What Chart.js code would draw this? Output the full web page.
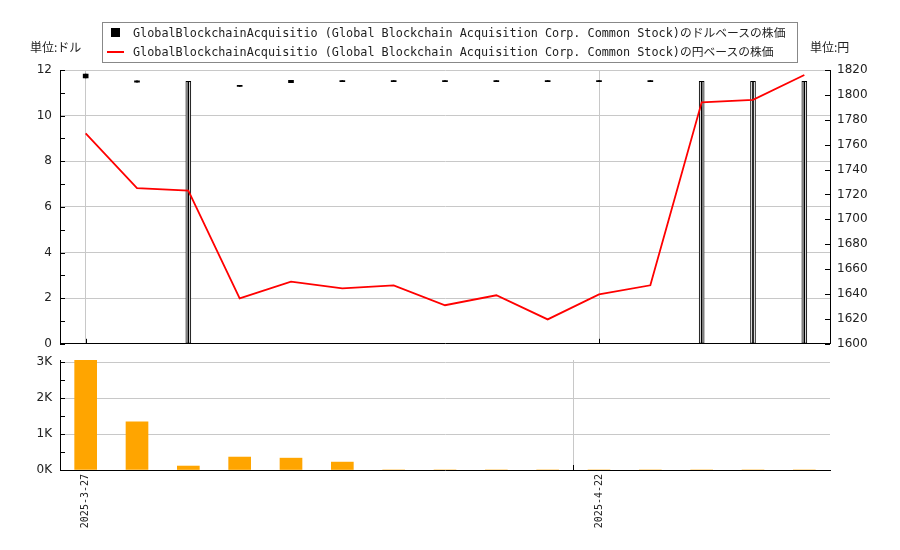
<!DOCTYPE html>
<html>
<head>
<meta charset="utf-8">
<script src="https://cdn.jsdelivr.net/npm/chart.js@4.4.1/dist/chart.umd.min.js"></script>
<style>
  body { margin: 0; background: #fff; }
  #wrap { position: relative; width: 900px; height: 550px; overflow: hidden; }
  canvas { position: absolute; left: 0; }
  #priceChart { top: 0; }
  #volChart { top: 350px; }
  .unit { position: absolute; top: 38px; line-height: 16px; font: 12px "Noto Sans CJK JP", sans-serif; color: #222; }
  #legend { position: absolute; left: 102px; top: 22px; width: 694px; height: 39px; border: 1px solid #888; background: #fff;
            font: 11.8px "DejaVu Sans Mono", "Noto Sans CJK JP", monospace; color: #222; }
  .row { position: absolute; left: 0; width: 100%; height: 19px; line-height: 19px; white-space: nowrap; }
  .row span { position: absolute; }
</style>
</head>
<body>
<div id="wrap">
  <canvas id="priceChart" width="900" height="359"></canvas>
  <canvas id="volChart" width="900" height="200"></canvas>
  <div class="unit" style="left:30px">単位:ドル</div>
  <div class="unit" style="left:810px">単位:円</div>
  <div id="legend"></div>
</div>
<script>
const dates = ['2025-3-27', '2025-3-28', '2025-3-31', '2025-4-1', '2025-4-2', '2025-4-3', '2025-4-4', '2025-4-7',
  '2025-4-8', '2025-4-9', '2025-4-22', '2025-4-23', '2025-4-24', '2025-4-25', '2025-4-28'];
const xLabelIdx = [0, 10];

// dollar based candles
const usdOpen  = [11.82, 11.53, 0,    11.32, 11.55, 11.51, 11.51, 11.51, 11.51, 11.51, 11.51, 11.51, 0,    0,    0];
const usdClose = [11.65, 11.47, 11.5, 11.28, 11.45, 11.49, 11.49, 11.49, 11.49, 11.49, 11.49, 11.49, 11.5, 11.5, 11.5];
const usdHigh  = [11.82, 11.53, 11.5, 11.32, 11.55, 11.51, 11.51, 11.51, 11.51, 11.51, 11.51, 11.51, 11.5, 11.5, 11.5];
const usdLow   = [11.65, 11.47, 0,    11.28, 11.45, 11.49, 11.49, 11.49, 11.49, 11.49, 11.49, 11.49, 0,    0,    0];

// yen based close
const jpyClose = [1769, 1725, 1723, 1636.5, 1650, 1644.6, 1647, 1631, 1639, 1619.6, 1639.7, 1647, 1794, 1796, 1816];

const volume = [3060, 1340, 110, 360, 330, 220, 0, 0, 0, 0, 0, 0, 0, 0, 0];

// tick values (labels only on the major ones)
const usdTicks = [0, 1, 2, 3, 4, 5, 6, 7, 8, 9, 10, 11, 12];
const jpyTicks = [1600, 1610, 1620, 1630, 1640, 1650, 1660, 1670, 1680, 1690, 1700, 1710,
  1720, 1730, 1740, 1750, 1760, 1770, 1780, 1790, 1800, 1810, 1820];
const volTicks = [0, 500, 1000, 1500, 2000, 2500, 3000];

const usdLabel = 'GlobalBlockchainAcquisitio (Global Blockchain Acquisition Corp. Common Stock)のドルベースの株価';
const jpyLabel = 'GlobalBlockchainAcquisitio (Global Blockchain Acquisition Corp. Common Stock)の円ベースの株価';

const gridGray = '#c8c8c8';
const tickFont = { family: 'DejaVu Sans', size: 12 };

// short tick marks drawn inside the plot, like the original
const inTicks = {
  id: 'inTicks',
  afterDraw(chart, args, opts) {
    const ctx = chart.ctx;
    ctx.save();
    ctx.strokeStyle = '#000';
    ctx.lineWidth = 1;
    Object.values(chart.scales).forEach(s => {
      if (s.axis === 'y') {
        s.ticks.forEach(t => {
          const y = Math.round(s.getPixelForValue(t.value)) + 0.5;
          ctx.beginPath();
          if (s.position === 'left') { ctx.moveTo(s.right, y); ctx.lineTo(s.right + 5, y); }
          else { ctx.moveTo(s.left - 5, y); ctx.lineTo(s.left, y); }
          ctx.stroke();
        });
      } else {
        const half = (s.getPixelForValue(1) - s.getPixelForValue(0)) * (opts.xShift || 0);
        opts.xMarks.forEach(i => {
          const x = Math.round(s.getPixelForValue(i) - half) + 0.5;
          ctx.beginPath(); ctx.moveTo(x, s.top - 5); ctx.lineTo(x, s.top); ctx.stroke();
        });
      }
    });
    ctx.restore();
  }
};

const setTicks = vals => s => { s.ticks = vals.map(v => ({ value: v })); };
const isUp = i => usdClose[i] >= usdOpen[i];

const priceChart = new Chart(document.getElementById('priceChart'), {
  type: 'bar',
  data: {
    labels: dates,
    datasets: [
      {
        type: 'line',
        label: jpyLabel,
        legendMark: 'line',
        data: jpyClose,
        yAxisID: 'yJpy',
        borderColor: '#ff0000',
        borderWidth: 1.8,
        pointRadius: 0,
        tension: 0,
        order: -1
      },
      {
        label: usdLabel,
        legendMark: 'square',
        data: dates.map((d, i) => [Math.min(usdOpen[i], usdClose[i]), Math.max(usdOpen[i], usdClose[i])]),
        yAxisID: 'yUsd',
        grouped: false,
        barThickness: 5,
        minBarLength: 1,
        backgroundColor: dates.map((d, i) => isUp(i) ? '#fff' : '#000'),
        borderColor: '#000',
        borderWidth: dates.map((d, i) => isUp(i) ? 1 : 0),
        borderSkipped: false,
        order: 2
      },
      {
        label: 'wick',
        data: dates.map((d, i) => [usdLow[i], usdHigh[i]]),
        yAxisID: 'yUsd',
        grouped: false,
        barThickness: 1,
        minBarLength: 1,
        backgroundColor: '#000',
        order: 1
      }
    ]
  },
  options: {
    responsive: false,
    animation: false,
    events: [],
    layout: { padding: { top: 70, bottom: 7, left: 0, right: 0 } },
    plugins: {
      legend: { display: false },
      tooltip: { enabled: false },
      inTicks: { xMarks: xLabelIdx, xShift: 0 }
    },
    scales: {
      x: {
        offset: true,
        grid: {
          offset: false,
          drawTicks: false,
          color: ctx => xLabelIdx.includes(ctx.index) ? gridGray : 'transparent'
        },
        border: { color: '#000' },
        ticks: { display: false, autoSkip: false },
        afterFit: s => { s.height = 0; }
      },
      yUsd: {
        position: 'left',
        min: 0,
        max: 12,
        afterBuildTicks: setTicks(usdTicks),
        ticks: {
          padding: 8,
          color: '#222',
          font: tickFont,
          callback: v => v % 2 === 0 ? v : ''
        },
        grid: {
          drawTicks: false,
          color: ctx => ctx.tick && ctx.tick.value % 2 === 0 && ctx.tick.value !== 0 ? gridGray : 'transparent'
        },
        border: { color: '#000' },
        afterFit: s => { s.width = 60; }
      },
      yJpy: {
        position: 'right',
        min: 1600,
        max: 1820,
        afterBuildTicks: setTicks(jpyTicks),
        ticks: {
          padding: 7,
          color: '#222',
          font: tickFont,
          callback: v => v % 20 === 0 ? v : ''
        },
        grid: { display: false, drawTicks: false },
        border: { color: '#000' },
        afterFit: s => { s.width = 70; }
      }
    }
  },
  plugins: [inTicks]
});

new Chart(document.getElementById('volChart'), {
  type: 'bar',
  data: {
    labels: dates,
    datasets: [{
      label: '出来高',
      data: volume,
      backgroundColor: '#ffa500',
      barThickness: 22
    }]
  },
  options: {
    responsive: false,
    animation: false,
    events: [],
    layout: { padding: { top: 10, right: 70, left: 0, bottom: 0 } },
    plugins: {
      legend: { display: false },
      tooltip: { enabled: false },
      inTicks: { xMarks: xLabelIdx, xShift: 0.5 }
    },
    scales: {
      x: {
        offset: true,
        grid: {
          offset: true,
          drawTicks: false,
          color: ctx => ctx.index === xLabelIdx[1] ? gridGray : 'transparent'
        },
        border: { color: '#000' },
        ticks: {
          autoSkip: false,
          minRotation: 90,
          maxRotation: 90,
          padding: 4,
          color: '#222',
          font: { family: 'DejaVu Sans Mono', size: 10 },
          callback: (v, i) => xLabelIdx.includes(i) ? dates[i] : ''
        },
        afterFit: s => { s.height = 80; s.paddingLeft = 0; s.paddingRight = 0; }
      },
      y: {
        min: 0,
        max: Math.max(...volume),
        afterBuildTicks: setTicks(volTicks),
        ticks: {
          padding: 8,
          color: '#222',
          font: tickFont,
          callback: v => v % 1000 === 0 ? (v / 1000) + 'K' : ''
        },
        grid: {
          drawTicks: false,
          color: ctx => ctx.tick && ctx.tick.value % 1000 === 0 && ctx.tick.value !== 0 ? gridGray : 'transparent'
        },
        border: { color: '#000' },
        afterFit: s => { s.width = 60; s.paddingTop = 0; s.paddingBottom = 0; }
      }
    }
  },
  plugins: [inTicks]
});

// html legend built from the price chart datasets
const legendBox = document.getElementById('legend');
const rows = priceChart.data.datasets.filter(d => d.legendMark)
  .sort((a, b) => (a.legendMark === 'square' ? 0 : 1) - (b.legendMark === 'square' ? 0 : 1));
rows.forEach((d, r) => {
  const row = document.createElement('div');
  row.className = 'row';
  row.style.top = (r === 0 ? 1 : 19.5) + 'px';
  const mark = document.createElement('span');
  if (d.legendMark === 'square') {
    mark.style.cssText = 'left:8px;top:4px;width:9px;height:9px;background:#000';
  } else {
    mark.style.cssText = 'left:4px;top:8.5px;width:17px;height:2px;background:' + d.borderColor;
  }
  const txt = document.createElement('span');
  txt.style.left = '30px';
  txt.textContent = d.label;
  row.appendChild(mark);
  row.appendChild(txt);
  legendBox.appendChild(row);
});
</script>
</body>
</html>
